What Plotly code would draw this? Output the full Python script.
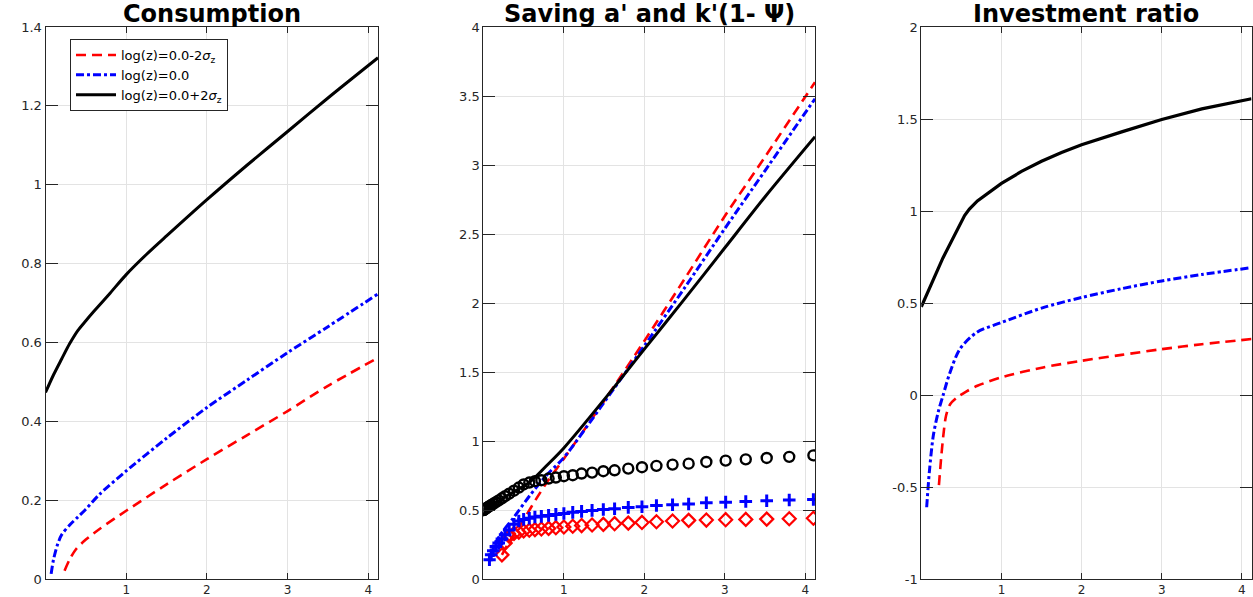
import plotly.graph_objects as go

# ---------------- data ----------------
# Panel 1: Consumption
c_lo_x = [0.236, 0.3, 0.38, 0.5, 0.67, 1.0, 1.5, 2.0, 2.5, 3.0, 3.5, 4.12]
c_lo_y = [0.021, 0.05, 0.076, 0.10, 0.127, 0.173, 0.24, 0.304, 0.365, 0.426, 0.49, 0.561]
c_mid_x = [0.07, 0.1, 0.15, 0.2, 0.3, 0.4, 0.5, 0.67, 1.0, 1.5, 2.0, 2.5, 3.0, 3.5, 4.12]
c_mid_y = [0.013, 0.05, 0.088, 0.112, 0.137, 0.157, 0.177, 0.215, 0.274, 0.357, 0.435, 0.505, 0.574, 0.64, 0.723]
c_hi_x = [0.0, 0.1, 0.2, 0.3, 0.4, 0.5, 0.6, 0.8, 1.0, 1.25, 1.5, 2.0, 2.5, 3.0, 3.5, 4.12]
c_hi_y = [0.473, 0.518, 0.558, 0.597, 0.63, 0.655, 0.679, 0.725, 0.772, 0.823, 0.87, 0.962, 1.05, 1.135, 1.22, 1.322]

# Panel 2: Saving a' (lines)
a_lo_x = [0.23, 0.3, 0.4, 0.52, 0.66, 0.8, 1.0, 1.5, 2.0, 2.5, 3.0, 3.5, 4.12]
a_lo_y = [0.175, 0.25, 0.34, 0.45, 0.584, 0.71, 0.872, 1.29, 1.725, 2.175, 2.63, 3.06, 3.60]
a_mid_x = [0.076, 0.12, 0.21, 0.37, 0.58, 0.785, 1.0, 1.5, 2.0, 2.5, 3.0, 3.5, 4.12]
a_mid_y = [0.14, 0.22, 0.32, 0.44, 0.607, 0.752, 0.88, 1.28, 1.69, 2.11, 2.54, 2.96, 3.48]
a_hi_x = [0.0, 0.2, 0.4, 0.58, 0.8, 1.0, 1.5, 2.0, 2.5, 3.0, 3.5, 4.12]
a_hi_y = [0.5, 0.57, 0.64, 0.704, 0.83, 0.95, 1.3, 1.666, 2.03, 2.40, 2.77, 3.205]

# Panel 2: k'(1-Psi) (markers)
k_hi_x = [0.0, 0.0005, 0.0015, 0.004, 0.007, 0.012, 0.019, 0.028, 0.041, 0.056, 0.075, 0.097,
          0.123, 0.155, 0.19, 0.23, 0.27, 0.32, 0.38, 0.44, 0.50, 0.57, 0.64, 0.72, 0.81, 0.90,
          1.00, 1.11, 1.22, 1.35, 1.49, 1.63, 1.80, 1.97, 2.15, 2.35, 2.55, 2.77, 3.01, 3.26,
          3.52, 3.80, 4.10]
k_hi_y = [0.50, 0.50, 0.50, 0.502, 0.503, 0.505, 0.507, 0.51, 0.515, 0.521, 0.528, 0.536,
          0.545, 0.557, 0.57, 0.585, 0.60, 0.618, 0.64, 0.663, 0.685, 0.699, 0.709, 0.716, 0.728,
          0.735, 0.745, 0.752, 0.764, 0.771, 0.781, 0.788, 0.80, 0.81, 0.82, 0.829, 0.836, 0.848,
          0.858, 0.867, 0.877, 0.885, 0.896]
k_mid_x = [0.075, 0.097, 0.123, 0.155, 0.19, 0.23, 0.27, 0.32, 0.38, 0.44, 0.50, 0.57, 0.64,
           0.72, 0.81, 0.90, 1.00, 1.11, 1.22, 1.35, 1.49, 1.63, 1.80, 1.97, 2.15, 2.35, 2.55,
           2.77, 3.01, 3.26, 3.52, 3.80, 4.10]
k_mid_y = [0.139, 0.175, 0.205, 0.235, 0.26, 0.29, 0.32, 0.355, 0.396, 0.42, 0.432, 0.44, 0.449,
           0.454, 0.461, 0.468, 0.475, 0.483, 0.49, 0.497, 0.504, 0.509, 0.519, 0.524, 0.533,
           0.538, 0.543, 0.553, 0.557, 0.562, 0.567, 0.572, 0.576]
k_lo_x = [0.23, 0.27, 0.32, 0.38, 0.44, 0.50, 0.57, 0.64, 0.72, 0.81, 0.90, 1.00, 1.11, 1.22,
          1.35, 1.49, 1.63, 1.80, 1.97, 2.15, 2.35, 2.55, 2.77, 3.01, 3.26, 3.52, 3.80, 4.10]
k_lo_y = [0.175, 0.26, 0.31, 0.33, 0.34, 0.348, 0.353, 0.358, 0.362, 0.367, 0.372, 0.377, 0.382,
          0.387, 0.391, 0.396, 0.401, 0.405, 0.41, 0.415, 0.42, 0.425, 0.427, 0.43, 0.432, 0.434,
          0.437, 0.44]

# Panel 3: Investment ratio
i_lo_x = [0.22, 0.25, 0.28, 0.31, 0.36, 0.44, 0.565, 0.7, 1.0, 1.52, 2.0, 2.5, 3.0, 3.5, 4.12]
i_lo_y = [-0.49, -0.33, -0.2, -0.11, -0.05, -0.015, 0.02, 0.05, 0.096, 0.15, 0.186, 0.218, 0.249, 0.276, 0.304]
i_mid_x = [0.067, 0.1, 0.15, 0.21, 0.27, 0.356, 0.48, 0.69, 1.0, 1.52, 2.0, 2.5, 3.0, 3.5, 4.12]
i_mid_y = [-0.61, -0.42, -0.22, -0.094, -0.004, 0.12, 0.249, 0.34, 0.394, 0.475, 0.53, 0.578, 0.62, 0.655, 0.692]
i_hi_x = [0.0, 0.27, 0.54, 0.6, 0.7, 0.85, 1.0, 1.25, 1.5, 1.75, 2.0, 2.5, 3.0, 3.5, 4.12]
i_hi_y = [0.479, 0.745, 0.975, 1.01, 1.055, 1.105, 1.15, 1.215, 1.27, 1.318, 1.36, 1.43, 1.497, 1.555, 1.61]

legend_names = ["log(z)=0.0-2<i>σ</i><sub>z</sub>", "log(z)=0.0", "log(z)=0.0+2<i>σ</i><sub>z</sub>"]
titles = ["Consumption", "Saving a' and k'(1- Ψ)", "Investment ratio"]

x_ticks = [1, 2, 3, 4]
y1_ticks = [0, 0.2, 0.4, 0.6, 0.8, 1, 1.2, 1.4]
y1_text = ["0", "0.2", "0.4", "0.6", "0.8", "1", "1.2", "1.4"]
y2_ticks = [0, 0.5, 1, 1.5, 2, 2.5, 3, 3.5, 4]
y2_text = ["0", "0.5", "1", "1.5", "2", "2.5", "3", "3.5", "4"]
y3_ticks = [-1, -0.5, 0, 0.5, 1, 1.5, 2]
y3_text = ["-1", "-0.5", "0", "0.5", "1", "1.5", "2"]

# ---------------- styles ----------------
RED, BLUE, BLACK = "#ff0000", "#0000ff", "#000000"
red_line = dict(color=RED, width=2.6, dash="10px,6px", shape="spline", smoothing=0.8)
blue_line = dict(color=BLUE, width=3, dash="8px,3px,3px,3px", shape="spline", smoothing=0.8)
black_line = dict(color=BLACK, width=3, shape="spline", smoothing=0.8)
black_line_kink = dict(color=BLACK, width=3.2)

fig = go.Figure()

# Panel 1
fig.add_trace(go.Scatter(x=c_lo_x, y=c_lo_y, mode="lines", line=red_line, name=legend_names[0],
                         xaxis="x", yaxis="y"))
fig.add_trace(go.Scatter(x=c_mid_x, y=c_mid_y, mode="lines", line=blue_line, name=legend_names[1],
                         xaxis="x", yaxis="y"))
fig.add_trace(go.Scatter(x=c_hi_x, y=c_hi_y, mode="lines", line=black_line, name=legend_names[2],
                         xaxis="x", yaxis="y"))

# Panel 2 lines
fig.add_trace(go.Scatter(x=a_lo_x, y=a_lo_y, mode="lines", line=red_line, showlegend=False,
                         xaxis="x2", yaxis="y2"))
fig.add_trace(go.Scatter(x=a_mid_x, y=a_mid_y, mode="lines", line=blue_line, showlegend=False,
                         xaxis="x2", yaxis="y2"))
fig.add_trace(go.Scatter(x=a_hi_x, y=a_hi_y, mode="lines", line=black_line, showlegend=False,
                         xaxis="x2", yaxis="y2"))
# Panel 2 markers
fig.add_trace(go.Scatter(x=k_lo_x, y=k_lo_y, mode="markers", showlegend=False,
                         marker=dict(symbol="diamond-open", size=10, color=RED, line=dict(width=2.2, color=RED)),
                         xaxis="x2", yaxis="y2"))
fig.add_trace(go.Scatter(x=k_mid_x, y=k_mid_y, mode="markers", showlegend=False,
                         marker=dict(symbol="cross-thin", size=9, color=BLUE, line=dict(width=3, color=BLUE)),
                         xaxis="x2", yaxis="y2"))
fig.add_trace(go.Scatter(x=k_hi_x, y=k_hi_y, mode="markers", showlegend=False,
                         marker=dict(symbol="circle-open", size=10, color=BLACK, line=dict(width=2.4, color=BLACK)),
                         xaxis="x2", yaxis="y2"))

# Panel 3
fig.add_trace(go.Scatter(x=i_lo_x, y=i_lo_y, mode="lines", line=red_line, showlegend=False,
                         xaxis="x3", yaxis="y3"))
fig.add_trace(go.Scatter(x=i_mid_x, y=i_mid_y, mode="lines", line=blue_line, showlegend=False,
                         xaxis="x3", yaxis="y3"))
fig.add_trace(go.Scatter(x=i_hi_x, y=i_hi_y, mode="lines", line=black_line_kink, showlegend=False,
                         xaxis="x3", yaxis="y3"))

W, H = 1253, 597
AX = "#262626"
GRID = "#e3e3e3"
ytickfont = dict(family="DejaVu Sans", size=13, color=AX)
xtickfont = dict(family="DejaVu Sans", size=12, color=AX)

def xax(dom, anchor):
    return dict(domain=dom, anchor=anchor, range=[0, 4.12], tickvals=x_ticks,
                ticks="inside", ticklen=6, tickcolor=AX, showline=True, linecolor=AX, linewidth=1,
                mirror="allticks", showgrid=True, gridcolor=GRID, zeroline=False,
                tickfont=xtickfont, automargin=False, ticklabelstandoff=0)

def yax(dom, anchor, rng, tv, tt):
    return dict(domain=dom, anchor=anchor, range=rng, tickvals=tv, ticktext=tt,
                ticks="inside", ticklen=12, tickcolor=AX, showline=True, linecolor=AX, linewidth=1,
                mirror="allticks", showgrid=True, gridcolor=GRID, zeroline=False,
                tickfont=ytickfont, automargin=False)

ydom = [18 / H, 570 / H]
d1 = [45.5 / W, 378 / W]
d2 = [483.4 / W, 815 / W]
d3 = [921.3 / W, 1251.5 / W]

annotations = []
for dom, t in zip([d1, d2, d3], titles):
    annotations.append(dict(text="<b>" + t + "</b>", x=(dom[0] + dom[1]) / 2, y=1 - 14 / H,
                            xref="paper", yref="paper", xanchor="center", yanchor="middle",
                            showarrow=False, font=dict(family="DejaVu Sans", size=24, color="#000000")))

fig.update_layout(
    width=W, height=H,
    margin=dict(l=0, r=0, t=0, b=0),
    paper_bgcolor="white", plot_bgcolor="white",
    xaxis=xax(d1, "y"), yaxis=yax(ydom, "x", [0, 1.4], y1_ticks, y1_text),
    xaxis2=xax(d2, "y2"), yaxis2=yax(ydom, "x2", [0, 4], y2_ticks, y2_text),
    xaxis3=xax(d3, "y3"), yaxis3=yax(ydom, "x3", [-1, 2], y3_ticks, y3_text),
    annotations=annotations,
    legend=dict(x=70 / W, y=1 - 39 / H, xanchor="left", yanchor="top",
                bgcolor="white", bordercolor=AX, borderwidth=1,
                font=dict(family="DejaVu Sans", size=13, color="#000000"),
                tracegroupgap=0, itemwidth=40),
    showlegend=True,
)

fig.write_html("out.html")
